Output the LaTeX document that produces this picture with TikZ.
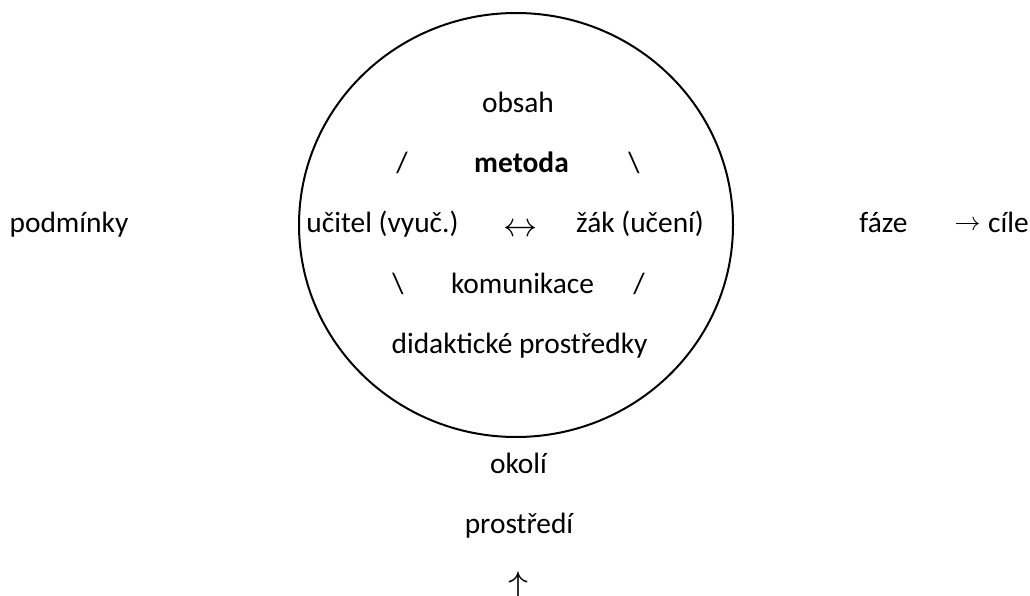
\documentclass[tikz,border=0pt]{standalone}
\usepackage{fontspec}
\usepackage{graphicx}
\setmainfont{Carlito}
\usetikzlibrary{shapes.geometric}
\begin{document}
\begin{tikzpicture}[x=1pt,y=-1pt,
  lbl/.style={inner sep=0pt, anchor=base, font=\fontsize{29.4}{34}\selectfont},
  arr/.style={inner sep=0pt, anchor=base},
  ring/.style={draw=black, line width=2pt}]
\useasboundingbox (0,0) rectangle (1030,596);
\node[ring, ellipse, minimum width=434pt, minimum height=424pt, inner sep=0pt] (circ) at (516,225) {};
\node[lbl] (obsah) at (518,113) {obsah};
\node[lbl] (sl1) at (402,173) {/};
\node[lbl] (metoda) at (521.5,173) {\bfseries metoda};
\node[lbl] (bs1) at (634,173) {\textbackslash};
\node[lbl] (ucitel) at (382.5,233) {učitel (vyuč.)};
\node[arr] (lr) at (520.5,236.5) {\scalebox{3.4}{$\leftrightarrow$}};
\node[lbl] (zak) at (640,233) {žák (učení)};
\node[lbl] (bs2) at (398,293) {\textbackslash};
\node[lbl] (komunikace) at (522.5,293) {komunikace};
\node[lbl] (sl2) at (639,293) {/};
\node[lbl] (did) at (519.5,353) {didaktické prostředky};
\node[lbl] (podminky) at (69,233) {podmínky};
\node[lbl] (faze) at (883.5,233) {fáze};
\node[arr] (ra) at (967.5,230) {\scalebox{2.6}{$\rightarrow$}};
\node[lbl, anchor=base west] (cile) at (988,233) {cíle};
\node[lbl] (okoli) at (518.5,473) {okolí};
\node[lbl] (prostredi) at (519,533) {prostředí};
\node[arr, anchor=north] (up) at (518,572) {\scalebox{4}{$\uparrow$}};
\end{tikzpicture}
\end{document}
